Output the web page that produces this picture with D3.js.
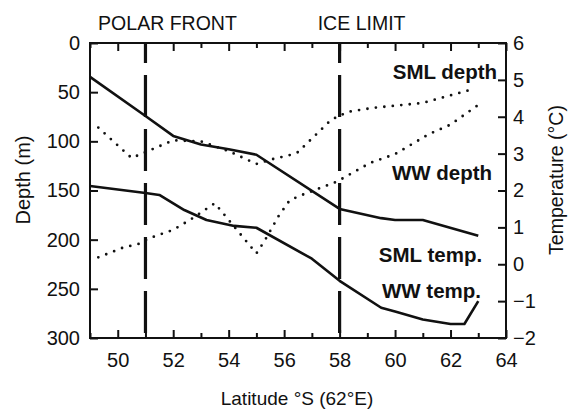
<!DOCTYPE html>
<html>
<head>
<meta charset="utf-8">
<script src="https://cdn.jsdelivr.net/npm/d3@7"></script>
<style>
  body { margin: 0; background: #fff; }
  svg { font-family: "Liberation Sans", Arial, Helvetica, sans-serif; }
</style>
</head>
<body>
<div id="chart"></div>
<script>
// latitude (°S) vs depth (m), left axis
const smlDepth = [[49.3, 86], [50.5, 117], [51, 111], [52, 99], [53, 100], [54, 110], [55, 123],
    [55.6, 118], [56.2, 114], [56.5, 111], [57.7, 78], [58.3, 70], [59.2, 66], [61, 61], [62.8, 47]];
const wwDepth = [[49.3, 218], [50.2, 208], [50.8, 204], [51.1, 199], [52, 190], [52.6, 180], [53.5, 163],
    [54, 180], [55, 214], [55.3, 201], [55.8, 176], [56.2, 160], [56.6, 155], [57.9, 141],
    [59.1, 122], [60, 113], [61.2, 93], [62, 83], [63, 63]];

// latitude vs temperature (°C), right axis
const smlTemp = [[49, 5.08], [51, 4.02], [52, 3.48], [53, 3.25], [54, 3.12], [55, 2.97], [58, 1.5],
    [59.5, 1.25], [60, 1.2], [61, 1.2], [63, 0.77]];
const wwTemp = [[49, 2.12], [51, 1.93], [51.5, 1.88], [52.4, 1.47], [53.2, 1.2], [54.2, 1.04], [55, 0.99],
    [57, 0.15], [58, -0.45], [59.5, -1.18], [60, -1.28], [61, -1.5], [62, -1.62], [62.5, -1.62], [63, -1.0]];

const fronts = [{ lat: 51, name: 'POLAR FRONT' }, { lat: 58, name: 'ICE LIMIT' }];
const seriesLabels = [
    { text: 'SML depth', lat: 63.68, depth: 36.6 },
    { text: 'WW depth', lat: 63.5, depth: 139 },
    { text: 'SML temp.', lat: 63.14, temp: 0.06 },
    { text: 'WW temp.', lat: 63.1, temp: -0.92 }
];

const latTicks = [50, 52, 54, 56, 58, 60, 62, 64];
const depthTicks = [0, 50, 100, 150, 200, 250, 300];
const tempTicks = [-2, -1, 0, 1, 2, 3, 4, 5, 6];

const width = 570, height = 411;
const margin = { top: 43, right: 64, bottom: 73, left: 90 };

const svg = d3.select('#chart').append('svg')
    .attr('width', width)
    .attr('height', height);

const x = d3.scaleLinear().domain([49, 64]).range([margin.left, width - margin.right]);
const yD = d3.scaleLinear().domain([0, 300]).range([margin.top, height - margin.bottom]);
const yT = d3.scaleLinear().domain([-2, 6]).range([height - margin.bottom, margin.top]);

// integer ticks, long at even latitudes
const minorLat = d3.range(49, 65).filter(v => v % 2 === 1);

svg.append('g')
    .attr('transform', `translate(0,${height - margin.bottom})`)
    .call(d3.axisBottom(x).tickValues(latTicks).tickSize(-8).tickPadding(15).tickFormat(d3.format('d')))
    .call(g => g.select('.domain').remove());
svg.append('g')
    .attr('transform', `translate(0,${height - margin.bottom})`)
    .call(d3.axisBottom(x).tickValues(minorLat).tickSize(-5).tickFormat(''))
    .call(g => g.select('.domain').remove());
svg.append('g')
    .attr('transform', `translate(0,${margin.top})`)
    .call(d3.axisTop(x).tickValues(latTicks).tickSize(-8).tickFormat(''))
    .call(g => g.select('.domain').remove());
svg.append('g')
    .attr('transform', `translate(0,${margin.top})`)
    .call(d3.axisTop(x).tickValues(minorLat).tickSize(-5).tickFormat(''))
    .call(g => g.select('.domain').remove());

svg.append('g')
    .attr('transform', `translate(${margin.left},0)`)
    .call(d3.axisLeft(yD).tickValues(depthTicks).tickSize(-8).tickPadding(10))
    .call(g => g.select('.domain').remove());
svg.append('g')
    .attr('transform', `translate(${width - margin.right},0)`)
    .call(d3.axisRight(yT).tickValues(tempTicks).tickSize(-8).tickPadding(7))
    .call(g => g.select('.domain').remove());

svg.selectAll('.tick line').attr('stroke', '#111').attr('stroke-width', 2);
svg.selectAll('.tick text').attr('font-size', 20).attr('fill', '#111');

// frame
svg.append('rect')
    .attr('x', margin.left).attr('y', margin.top)
    .attr('width', width - margin.left - margin.right)
    .attr('height', height - margin.top - margin.bottom)
    .attr('fill', 'none').attr('stroke', '#111').attr('stroke-width', 2);

// front lines
svg.selectAll('.front')
    .data(fronts)
    .join('line')
    .attr('x1', d => x(d.lat)).attr('x2', d => x(d.lat))
    .attr('y1', margin.top).attr('y2', height - margin.bottom)
    .attr('stroke', '#111').attr('stroke-width', 3.2)
    .attr('stroke-dasharray', '42,12').attr('stroke-dashoffset', 22);

svg.selectAll('.front-label')
    .data(fronts)
    .join('text')
    .attr('x', d => x(d.lat) + 22)
    .attr('y', 30)
    .attr('text-anchor', 'middle')
    .attr('font-size', 19.5)
    .attr('fill', '#111')
    .text(d => d.name);

const depthLine = d3.line().x(d => x(d[0])).y(d => yD(d[1]));
const tempLine = d3.line().x(d => x(d[0])).y(d => yT(d[1]));

[smlDepth, wwDepth].forEach(s => {
    svg.append('path')
        .attr('d', depthLine(s))
        .attr('fill', 'none').attr('stroke', '#111').attr('stroke-width', 2.8)
        .attr('stroke-linecap', 'round').attr('stroke-dasharray', '0,8.5');
});
[smlTemp, wwTemp].forEach(s => {
    svg.append('path')
        .attr('d', tempLine(s))
        .attr('fill', 'none').attr('stroke', '#111').attr('stroke-width', 2.6)
        .attr('stroke-linejoin', 'round');
});

svg.selectAll('.series-label')
    .data(seriesLabels)
    .join('text')
    .attr('x', d => x(d.lat))
    .attr('y', d => d.depth !== undefined ? yD(d.depth) : yT(d.temp))
    .attr('text-anchor', 'end')
    .attr('font-size', 20.5)
    .attr('font-weight', 'bold')
    .attr('fill', '#111')
    .text(d => d.text);

// axis titles
svg.append('text')
    .attr('x', 297)
    .attr('y', 405)
    .attr('text-anchor', 'middle')
    .attr('font-size', 19)
    .attr('fill', '#111')
    .text('Latitude °S (62°E)');

svg.append('text')
    .attr('transform', 'translate(30,180) rotate(-90)')
    .attr('text-anchor', 'middle')
    .attr('font-size', 20)
    .attr('fill', '#111')
    .text('Depth (m)');

svg.append('text')
    .attr('transform', 'translate(563,180) rotate(-90)')
    .attr('text-anchor', 'middle')
    .attr('font-size', 19.5)
    .attr('fill', '#111')
    .text('Temperature (°C)');
</script>
</body>
</html>
